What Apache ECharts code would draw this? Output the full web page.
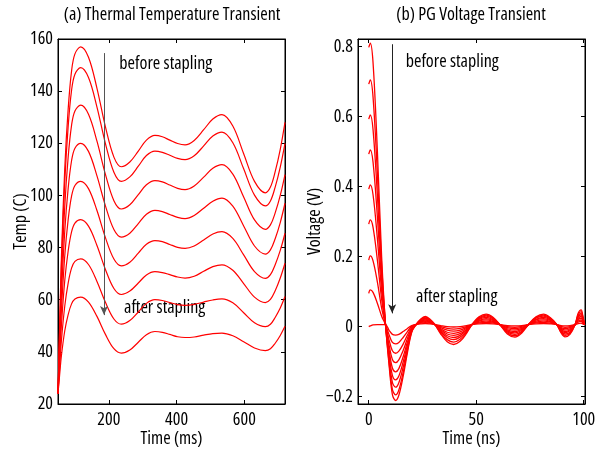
<!DOCTYPE html>
<html>
<head>
<meta charset="utf-8">
<script src="https://cdn.jsdelivr.net/npm/echarts@6/dist/echarts.min.js"></script>
<style>
  html, body { margin: 0; padding: 0; background: #fff; }
  #main { width: 613px; height: 458px; }
</style>
</head>
<body>
<div id="main"></div>
<script>
// (a) thermal temperature transient, time in ms, temp in C
var tempTime = [50, 55, 60, 70, 80, 90, 100, 117, 140, 165, 190, 215, 237, 262, 287, 311, 336, 358, 380, 403, 425, 452, 480, 507, 534, 566, 598, 630, 662, 677, 691, 706, 720];
var tempRun1 = [24, 50.6, 75.9, 110.5, 133.1, 147.7, 154.3, 157, 153, 141.1, 126.3, 114.7, 111, 112.8, 117, 121.2, 123, 122.5, 121.2, 119.9, 119.4, 121.1, 125.2, 129.3, 131, 126.6, 116, 105.4, 101, 103.2, 109.1, 117.7, 128];
var tempRun2 = [24, 49, 72.8, 105.3, 126.5, 140.3, 146.5, 149, 145.2, 133.9, 119.9, 108.9, 105.4, 107.1, 111.2, 115.3, 117, 116.5, 115.4, 114.2, 113.7, 115.2, 119, 122.8, 124.3, 120.2, 110.2, 100.1, 96, 97.9, 103.2, 110.9, 120];
var tempRun3 = [24, 46.1, 67.1, 95.9, 114.7, 126.9, 132.4, 134.6, 131.1, 120.8, 108.1, 98, 94.8, 96.4, 100.3, 104.1, 105.7, 105.2, 104, 102.7, 102.2, 103.6, 107, 110.4, 111.8, 108.2, 99.4, 90.6, 87, 88.7, 93.3, 100, 108];
var tempRun4 = [24, 43.2, 61.4, 86.4, 102.7, 113.3, 118.1, 120, 116.9, 107.5, 96, 86.9, 84, 85.5, 89.2, 92.8, 94.3, 93.8, 92.7, 91.6, 91.1, 92.3, 95.1, 97.8, 99, 95.9, 88.3, 80.6, 77.5, 79.1, 83.4, 89.6, 97];
var tempRun5 = [24, 40.3, 55.7, 76.9, 90.7, 99.7, 103.8, 105.4, 102.6, 94.2, 83.8, 75.6, 73, 74.4, 77.9, 81.3, 82.7, 82.3, 81.2, 80.1, 79.7, 80.6, 82.9, 85.2, 86.1, 83.5, 77.2, 70.8, 68.2, 69.6, 73.4, 78.9, 85.5];
var tempRun6 = [24, 37.3, 50, 67.4, 78.7, 86, 89.4, 90.7, 88.2, 80.8, 71.6, 64.3, 62, 63.3, 66.4, 69.5, 70.8, 70.4, 69.6, 68.7, 68.3, 69, 70.9, 72.7, 73.4, 71.3, 66.2, 61, 58.9, 60.1, 63.4, 68.3, 74];
var tempRun7 = [24, 34.3, 44.2, 57.6, 66.4, 72.1, 74.7, 75.7, 73.5, 67, 59, 52.6, 50.6, 52, 55.3, 58.6, 60, 59.7, 58.9, 58.1, 57.8, 58.2, 59.1, 59.9, 60.3, 58.8, 55, 51.2, 49.7, 50.6, 53.2, 56.8, 61.2];
var tempRun8 = [24, 31.4, 38.4, 48.1, 54.3, 58.4, 60.3, 61, 59.1, 53.6, 46.7, 41.2, 39.5, 40.7, 43.7, 46.6, 47.8, 47.5, 46.7, 45.8, 45.5, 45.7, 46.4, 47, 47.2, 46.2, 43.9, 41.5, 40.5, 41.2, 43.3, 46.3, 49.8];

// (b) PG voltage transient, time in ns, voltage in V
var voltTime = [0, 0.7, 2, 4, 6, 7.8, 9.5, 11, 12.5, 14, 16, 18, 20, 22, 24.2, 26.3, 28.4, 30.8, 33.5, 36.5, 39.5, 42.5, 45.5, 48, 51.3, 54.6, 57.8, 61, 64.5, 68, 71.2, 74.3, 77.8, 81.3, 84.4, 87.5, 89.4, 91.3, 93.6, 96, 97.4, 98.8, 99.6, 100.4];
var voltRun8 = [0.798, 0.81, 0.754, 0.504, 0.199, 0.006, -0.113, -0.194, -0.211, -0.196, -0.142, -0.074, -0.016, 0.006, 0.022, 0.029, 0.022, 0.006, -0.021, -0.043, -0.051, -0.042, -0.019, 0.006, 0.028, 0.036, 0.027, 0.006, -0.021, -0.030, -0.018, 0.006, 0.028, 0.036, 0.026, 0.006, -0.017, -0.029, -0.022, 0.006, 0.038, 0.048, 0.031, 0.006];
var voltRun7 = [0.693, 0.705, 0.656, 0.439, 0.174, 0.006, -0.105, -0.179, -0.195, -0.181, -0.131, -0.068, -0.014, 0.006, 0.020, 0.027, 0.020, 0.006, -0.018, -0.037, -0.044, -0.036, -0.016, 0.006, 0.025, 0.033, 0.025, 0.006, -0.018, -0.026, -0.015, 0.006, 0.026, 0.033, 0.024, 0.006, -0.015, -0.025, -0.019, 0.006, 0.034, 0.043, 0.028, 0.006];
var voltRun6 = [0.593, 0.605, 0.563, 0.377, 0.150, 0.006, -0.092, -0.159, -0.173, -0.160, -0.116, -0.060, -0.012, 0.006, 0.019, 0.024, 0.019, 0.006, -0.014, -0.031, -0.037, -0.030, -0.013, 0.006, 0.023, 0.030, 0.023, 0.006, -0.015, -0.022, -0.013, 0.006, 0.024, 0.030, 0.022, 0.006, -0.012, -0.021, -0.016, 0.006, 0.030, 0.038, 0.025, 0.006];
var voltRun5 = [0.493, 0.505, 0.470, 0.315, 0.126, 0.006, -0.081, -0.139, -0.152, -0.141, -0.101, -0.052, -0.010, 0.006, 0.017, 0.0215, 0.017, 0.006, -0.011, -0.026, -0.031, -0.025, -0.010, 0.006, 0.021, 0.0265, 0.020, 0.006, -0.012, -0.018, -0.010, 0.006, 0.021, 0.0265, 0.020, 0.006, -0.010, -0.017, -0.012, 0.006, 0.027, 0.034, 0.023, 0.006];
var voltRun4 = [0.393, 0.405, 0.377, 0.253, 0.102, 0.006, -0.068, -0.118, -0.129, -0.120, -0.086, -0.044, -0.008, 0.006, 0.015, 0.019, 0.015, 0.006, -0.009, -0.021, -0.025, -0.020, -0.008, 0.006, 0.018, 0.023, 0.018, 0.006, -0.009, -0.014, -0.007, 0.006, 0.019, 0.023, 0.018, 0.006, -0.007, -0.014, -0.009, 0.006, 0.023, 0.029, 0.020, 0.006];
var voltRun3 = [0.293, 0.305, 0.284, 0.191, 0.078, 0.006, -0.054, -0.094, -0.103, -0.095, -0.068, -0.034, -0.005, 0.006, 0.013, 0.0165, 0.013, 0.006, -0.006, -0.016, -0.019, -0.015, -0.005, 0.006, 0.016, 0.0195, 0.015, 0.006, -0.006, -0.010, -0.005, 0.006, 0.016, 0.0195, 0.015, 0.006, -0.004, -0.010, -0.006, 0.006, 0.020, 0.024, 0.017, 0.006];
var voltRun2 = [0.190, 0.202, 0.188, 0.128, 0.053, 0.006, -0.039, -0.069, -0.076, -0.070, -0.050, -0.024, -0.002, 0.006, 0.012, 0.014, 0.012, 0.006, -0.003, -0.010, -0.013, -0.010, -0.002, 0.006, 0.013, 0.016, 0.013, 0.006, -0.003, -0.006, -0.002, 0.006, 0.013, 0.016, 0.013, 0.006, -0.002, -0.006, -0.003, 0.006, 0.016, 0.019, 0.014, 0.006];
var voltRun1 = [0.095, 0.105, 0.098, 0.067, 0.030, 0.006, -0.024, -0.045, -0.049, -0.045, -0.031, -0.014, 0.001, 0.006, 0.010, 0.0115, 0.010, 0.006, 0.000, -0.005, -0.007, -0.005, 0.000, 0.006, 0.011, 0.0125, 0.011, 0.006, 0.000, -0.002, 0.001, 0.006, 0.011, 0.0125, 0.010, 0.006, 0.001, -0.002, 0.000, 0.006, 0.013, 0.015, 0.011, 0.006];
var voltRun0 = [0.000, 0.002, 0.005, 0.006, 0.006, 0.006, -0.011, -0.022, -0.024, -0.022, -0.014, -0.005, 0.003, 0.006, 0.008, 0.009, 0.008, 0.006, 0.003, 0.000, -0.001, 0.000, 0.003, 0.006, 0.008, 0.009, 0.008, 0.006, 0.003, 0.002, 0.003, 0.006, 0.008, 0.009, 0.008, 0.006, 0.003, 0.002, 0.003, 0.006, 0.009, 0.010, 0.008, 0.006];

// tick values
var tempTicksX = [200, 400, 600];
var voltTicksX = [0, 50, 100];
var voltTicksY = [-0.2, 0, 0.2, 0.4, 0.6, 0.8];

// narrow look of the original: Open Sans with the condensed width
var FAMILY = '"Open Sans", sans-serif';
var FONT = 'condensed 18px ' + FAMILY;
var RED = '#ff0000';

function pairs (xs, ys) {
  return xs.map(function (x, i) { return [x, ys[i]] })
}
function fmt (v) {
  return String(v).replace('-', '\u2212')
}
var textStyle = { color: '#000', fontSize: 18, fontStyle: 'condensed', fontFamily: FAMILY }

function xAxis (grid, min, max, ticks, name, top) {
  return {
    type: 'value', gridIndex: grid, min: min, max: max,
    position: top ? 'top' : 'bottom',
    axisLine: { show: true, onZero: false, lineStyle: { color: '#000', width: 1 } },
    axisTick: { show: true, inside: true, length: 4, customValues: ticks, lineStyle: { color: '#000' } },
    axisLabel: top ? { show: false } : Object.assign({ show: true, customValues: ticks, margin: 7, formatter: fmt }, textStyle),
    splitLine: { show: false },
    name: top ? '' : name, nameLocation: 'middle', nameGap: 26, nameMoveOverlap: false, nameTextStyle: textStyle
  }
}
function yAxis (grid, min, max, ticks, name, right, gap) {
  var tick = { show: true, inside: true, length: 4, lineStyle: { color: '#000' } }
  var lab = Object.assign({ show: !right, margin: 5, formatter: fmt }, textStyle)
  if (ticks) { tick.customValues = ticks; lab.customValues = ticks }
  return {
    type: 'value', gridIndex: grid, min: min, max: max, interval: ticks ? undefined : 20,
    position: right ? 'right' : 'left',
    axisLine: { show: true, onZero: false, lineStyle: { color: '#000', width: 1 } },
    axisTick: tick,
    axisLabel: lab,
    splitLine: { show: false },
    name: right ? '' : name, nameLocation: 'middle', nameRotate: 90, nameGap: gap, nameMoveOverlap: false, nameTextStyle: textStyle
  }
}

var tempRuns = [tempRun1, tempRun2, tempRun3, tempRun4, tempRun5, tempRun6, tempRun7, tempRun8]
var voltRuns = [voltRun0, voltRun1, voltRun2, voltRun3, voltRun4, voltRun5, voltRun6, voltRun7, voltRun8]

var series = []
tempRuns.forEach(function (r) {
  series.push({
    type: 'line', xAxisIndex: 0, yAxisIndex: 0, data: pairs(tempTime, r),
    smooth: 0.35, symbol: 'none', silent: true,
    lineStyle: { color: RED, width: 1.2 }
  })
})
voltRuns.forEach(function (r) {
  series.push({
    type: 'line', xAxisIndex: 2, yAxisIndex: 2, data: pairs(voltTime, r),
    smooth: 0.35, symbol: 'none', silent: true,
    lineStyle: { color: RED, width: 1.3 }
  })
})

function arrow (a, b, color) {
  return {
    silent: true, symbol: ['none', 'arrow'], symbolSize: [6, 9],
    label: { show: false },
    lineStyle: { color: color, width: 1, type: 'solid' },
    data: [[{ coord: a }, { coord: b }]]
  }
}
series[0].markLine = arrow([185.8, 154.6], [185.8, 54.1], '#555')
series[8].markLine = arrow([10.9, 0.807], [10.9, 0.038], '#222')

var chart = echarts.init(document.getElementById('main'))
chart.setOption({
  animation: false,
  backgroundColor: '#fff',
  grid: [
    { left: 58, top: 39, width: 227, height: 365, show: true, borderColor: '#000', borderWidth: 1 },
    { left: 358, top: 39, width: 227, height: 365, show: true, borderColor: '#000', borderWidth: 1 }
  ],
  xAxis: [
    xAxis(0, 50, 720, tempTicksX, 'Time (ms)', false),
    xAxis(0, 50, 720, tempTicksX, '', true),
    xAxis(1, -5, 100.6, voltTicksX, 'Time (ns)', false),
    xAxis(1, -5, 100.6, voltTicksX, '', true)
  ],
  yAxis: [
    yAxis(0, 20, 160, null, 'Temp (C)', false, 28),
    yAxis(0, 20, 160, null, '', true, 0),
    yAxis(1, -0.221, 0.822, voltTicksY, 'Voltage (V)', false, 34),
    yAxis(1, -0.221, 0.822, voltTicksY, '', true, 0)
  ],
  series: series
})

function label (grid, pt, text) {
  var p = chart.convertToPixel({ gridIndex: grid }, pt)
  return {
    type: 'text', x: p[0], y: p[1], silent: true,
    style: { text: text, fill: '#000', font: FONT, textAlign: 'left', textVerticalAlign: 'middle' }
  }
}
function title (x, text) {
  return {
    type: 'text', x: x, y: 15, silent: true,
    style: { text: text, fill: '#000', font: FONT, textAlign: 'center', textVerticalAlign: 'middle' }
  }
}
chart.setOption({
  graphic: [
    title(172, '(a) Thermal Temperature Transient'),
    title(471, '(b) PG Voltage Transient'),
    label(0, [231, 150.4], 'before stapling'),
    label(0, [244.8, 56.8], 'after stapling'),
    label(1, [17.2, 0.757], 'before stapling'),
    label(1, [22.0, 0.0857], 'after stapling')
  ]
})
</script>
</body>
</html>
